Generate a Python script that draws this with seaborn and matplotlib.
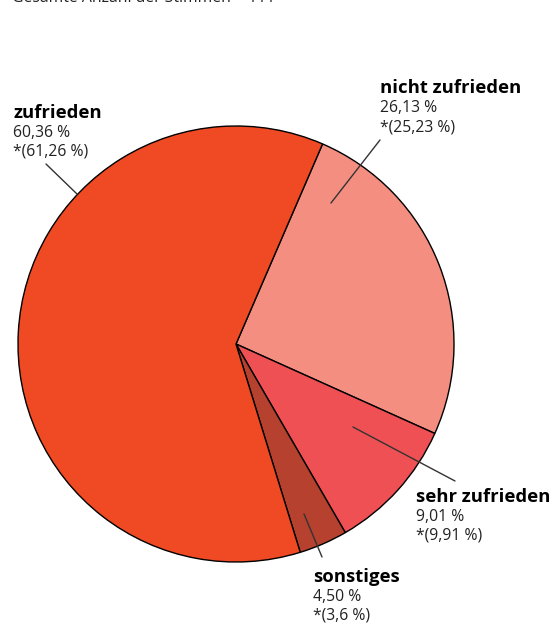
import matplotlib.pyplot as plt
import seaborn as sns

# slices in clockwise order, starting at the top boundary
labels = ['nicht zufrieden', 'sehr zufrieden', 'sonstiges', 'zufrieden']
shares = ['26,13 %', '9,01 %', '4,50 %', '60,36 %']
shares_ref = ['*(25,23 %)', '*(9,91 %)', '*(3,6 %)', '*(61,26 %)']
pie_values = [25.23, 9.91, 3.6, 61.26]
colors = ['#F48E80', '#EF5054', '#B5412E', '#EF4A23']

sns.set_theme(style='white')
plt.rcParams['font.family'] = ['Open Sans', 'DejaVu Sans']

W, H = 552, 626
fig = plt.figure(figsize=(W / 100, H / 100), dpi=100)
ax = fig.add_axes([0, 0, 1, 1])

cx, cy, r = 236, H - 344, 218
ax.pie(pie_values, colors=colors, startangle=66.6, counterclock=False,
       center=(cx, cy), radius=r, frame=True,
       wedgeprops=dict(edgecolor='black', linewidth=1.0))
ax.set_xlim(0, W)
ax.set_ylim(0, H)
ax.set_aspect('equal')
ax.axis('off')

# label text positions (x, baseline of first line) and leader lines
text_pos = [(380, 93), (416, 502), (313, 582), (13, 118)]
leaders = [((380, 140), (331, 203)), ((455, 481), (353, 427)),
           ((322, 557), (304, 514)), ((46, 164), (77, 194))]

for lab, s, sr, (tx, ty), (p0, p1) in zip(labels, shares, shares_ref, text_pos, leaders):
    ax.text(tx, H - ty, lab, fontsize=13.3, fontweight='bold', color='black', va='baseline')
    ax.text(tx, H - ty - 19, s, fontsize=11.3, color='#222222', va='baseline')
    ax.text(tx, H - ty - 38, sr, fontsize=11.3, color='#222222', va='baseline')
    ax.plot([p0[0], p1[0]], [H - p0[1], H - p1[1]], color='#333333', linewidth=1.0)

fig.text(12 / W, 1 - 2 / H, 'Gesamte Anzahl der Stimmen = 111', fontsize=11.3,
         color='#222222', va='baseline')

fig.savefig('out.png', dpi=100)
